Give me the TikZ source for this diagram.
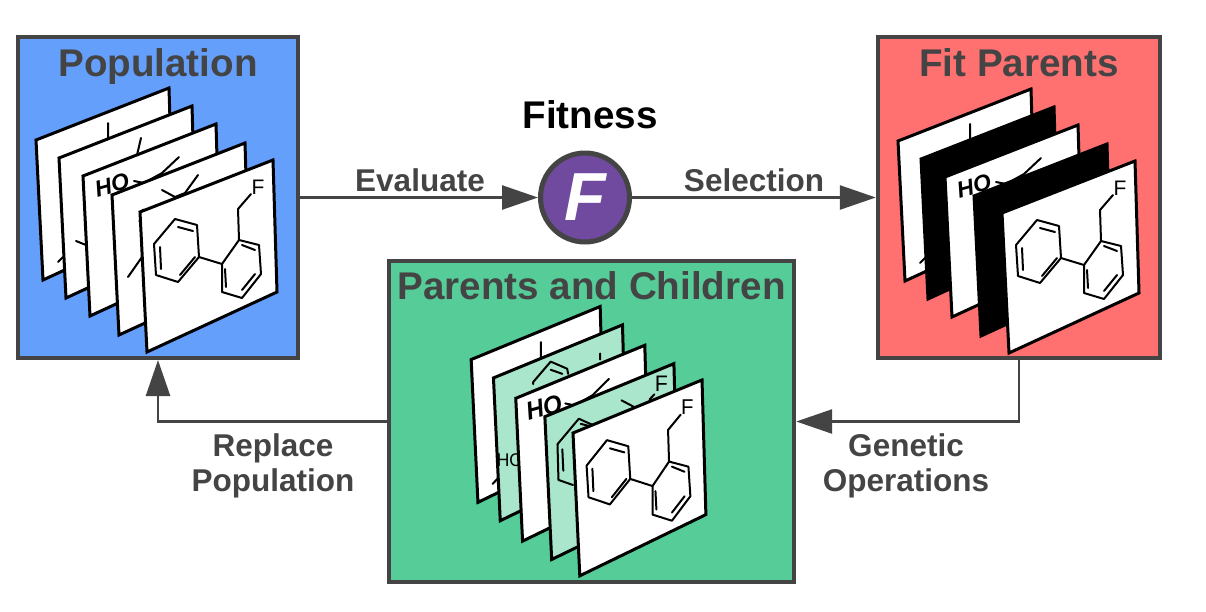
\documentclass[tikz,border=0pt]{standalone}
\usepackage{fontspec}
\setmainfont{Liberation Sans}
\usetikzlibrary{arrows.meta}
\definecolor{Ink}{HTML}{444444}
\definecolor{PopBlue}{HTML}{659FFC}
\definecolor{FitRed}{HTML}{FF7070}
\definecolor{KidGreen}{HTML}{56CC99}
\definecolor{KidSoft}{HTML}{A9E6CB}
\definecolor{FitPurple}{HTML}{6F4A9E}
\newcommand{\bigfont}{\fontsize{38.6}{40}\selectfont\bfseries}
\newcommand{\midfont}{\fontsize{31.5}{35}\selectfont\bfseries}
\tikzset{
  panelbox/.style={draw=Ink,line width=4.4pt,minimum width=#1,minimum height=320.6pt,inner sep=0pt},
  paneltitle/.style={font=\bigfont,text=Ink,inner sep=0pt,anchor=base},
  flowlabel/.style={font=\midfont,text=Ink,align=center,inner sep=0pt},
  line/.style={-{Triangle[length=36pt,width=24pt]},draw=Ink,line width=2.6pt},
  cardedge/.style={draw=black,line width=3pt,line join=miter},
  bond/.style={draw=black,line width=2pt,line cap=round,line join=round},
  atomtext/.style={font=\fontsize{#1}{#1}\selectfont,text=black,inner sep=0pt},
  pics/card/.style={code={
    \path[cardedge,fill=#1] (0,0) -- (133,-52) -- (137,80) -- (7,140) -- cycle;
  }},
  pics/biphenyl/.style={code={
    \draw[bond] (14,32) -- (35,7) -- (57,13) -- (59,45) -- (38,70) -- (16,63) -- cycle;
    \draw[bond] (38,15) -- (53,19) (20,35) -- (21,57) (40,63) -- (55,45);
    \draw[bond] (59,45) -- (82,52);
    \draw[bond] (82,52) -- (99,28) -- (119,33) -- (121,62) -- (102,86) -- (82,80) -- cycle;
    \draw[bond] (102,33) -- (115,38) (115,62) -- (102,78) (85,57) -- (86,75);
    \draw[bond] (99,28) -- (98,-3) -- (111,-18);
    \node[atomtext=21] at (118,-25) {F};
  }},
  pics/backbits/.style={code={
    \draw[bond] (72,-17) -- (72,-2) (22,122) -- (27,117);
  }},
  pics/hobits/.style={code={
    \node[atomtext=#1,rotate=15] at (29,9) {\itshape\bfseries HO};
    \draw[bond] (51,5) -- (61,7) -- (79,-3) -- (96,-19);
  }}
}
\begin{document}
\begin{tikzpicture}[x=1pt,y=-1pt]
  \useasboundingbox (0,0) rectangle (1206,611);

  % panels
  \node[panelbox=280.5pt,fill=PopBlue] (pop) at (158,197.5) {};
  \node[panelbox=282pt,fill=FitRed] (fit) at (1019,197.5) {};
  \node[panelbox=405pt,fill=KidGreen] (kids) at (591.5,421.5) {};
  \node[paneltitle] (poptitle) at (158,76.5) {Population};
  \node[paneltitle] (fittitle) at (1019,76.5) {Fit Parents};
  \node[paneltitle] (kidstitle) at (591.5,299.5) {Parents and Children};

  % population stack
  \begin{scope}[shift={(140,212)}]
    \pic at (-104,-72) {card=white};
    \pic at (-104,-72) {backbits};
    \pic at (-81,-54) {card=white};
    \draw[bond] (1,-74) -- (-3,-57) (-64,29) -- (-54,33);
    \pic at (-57,-36) {card=white};
    \pic at (-57,-36) {hobits=23};
    \pic at (-28,-17) {card=white};
    \draw[bond] (22,-22) -- (35,-15) -- (45,-19) (58,-37) -- (45,-19) (-12,65) -- (2,45);
    \draw[black,line width=3pt,line cap=round] (3,-2) -- (0,10);
    \pic at (0,0) {card=white};
    \pic at (0,0) {biphenyl};
  \end{scope}

  % fit parents stack
  \begin{scope}[shift={(1002,213)}]
    \pic at (-104,-72) {card=white};
    \pic at (-104,-72) {backbits};
    \pic at (-81,-54) {card=black};
    \pic at (-57,-36) {card=white};
    \pic at (-57,-36) {hobits=23};
    \pic at (-28,-17) {card=black};
    \pic at (0,0) {card=white};
    \pic at (0,0) {biphenyl};
  \end{scope}

  % parents and children stack
  \begin{scope}[shift={(573,433)},xscale=0.97,yscale=1.02,transform shape]
    \pic at (-105,-72) {card=white};
    \pic at (-105,-72) {backbits};
    \pic at (-82,-54) {card=KidSoft};
    \draw[bond] (-41,-48) -- (-41,-50) -- (-23,-70) -- (-6,-63) -- (-5,-58) (-23,-62) -- (-11,-58) (28,-78) -- (28,-72);
    \node[atomtext=18] at (-65,27) {HO};
    \pic at (-59,-34) {card=white};
    \pic at (-59,-34) {hobits=25};
    \pic at (-29,-16) {card=KidSoft};
    \draw[bond] (-16,11) -- (6,-14) -- (20,-8) (-16,11) -- (-15,46) -- (0,51) (-11,16) -- (-10,37) (8,-9) -- (16,-7);
    \draw[bond] (50,-32) -- (64,-25) (84,-38) -- (79,-33);
    \node[atomtext=22] at (91,-48) {F};
    \pic at (0,0) {card=white};
    \pic at (0,0) {biphenyl};
  \end{scope}

  % fitness circle
  \node[circle,draw=Ink,line width=5pt,fill=FitPurple,minimum size=89pt,inner sep=0pt,
        font=\fontsize{68}{68}\selectfont\bfseries\itshape,text=white] (fitness) at (585,197.5) {F};
  \node[font=\bigfont,text=black,inner sep=0pt,anchor=base] (fitnesstitle) at (590,128) {Fitness};

  % connectors
  \draw[line] (pop.east) -- (fitness.west);
  \draw[line] (fitness.east) -- (fit.west);
  \draw[line] (fit.south) |- (kids.east);
  \draw[line] (kids.west) -| (pop.south);

  \node[flowlabel] (evaluate) at (420,180) {Evaluate};
  \node[flowlabel] (selection) at (754,180) {Selection};
  \node[flowlabel] (replace) at (273,465.5) {Replace\\Population};
  \node[flowlabel] (genetic) at (906,465.5) {Genetic\\Operations};
\end{tikzpicture}
\end{document}
